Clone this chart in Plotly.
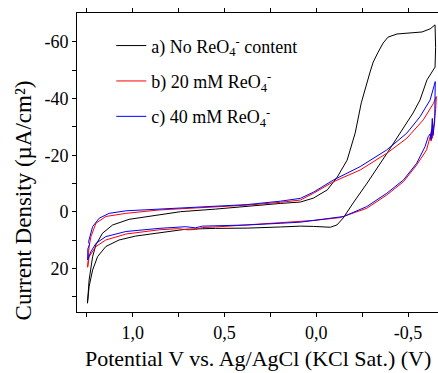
import plotly.graph_objects as go

# ---------------- data ----------------
names = ["a) No ReO<sub>4</sub><sup>-</sup> content",
         "b) 20 mM ReO<sub>4</sub><sup>-</sup>",
         "c) 40 mM ReO<sub>4</sub><sup>-</sup>"]
colors = ["#000000", "#ff0000", "#0000ff"]

pot_a = [1.247, 1.238, 1.219, 1.192, 1.147, 1.075, 0.984, 0.857, 0.712, 0.55, 0.377, 0.196,
         0.087, 0.015, -0.058, -0.076, -0.112, -0.147, -0.201, -0.277, -0.386, -0.457,
         -0.527, -0.565, -0.603, -0.647, -0.650, -0.647, -0.620, -0.576, -0.511, -0.44,
         -0.391, -0.364, -0.337, -0.31, -0.293, -0.266, -0.245, -0.212, -0.168, -0.114,
         -0.06, 0.015, 0.087, 0.196, 0.377, 0.55, 0.739, 0.857, 1.02, 1.11, 1.165, 1.201,
         1.219, 1.238, 1.247]
cur_a = [32.2, 26.3, 20.5, 15.8, 12.2, 9.9, 8.5, 7.3, 6.1, 5.8, 5.7, 5.3,
         5.0, 5.1, 5.5, 5.4, 4.6, 2.1, -3.2, -10.2, -20.8, -27.9,
         -34.9, -39.5, -46.6, -51.1, -58.0, -66.0, -64.6, -63.5, -63.1, -62.8,
         -61.7, -59.6, -56.4, -52.9, -49.4, -43.0, -38.5, -27.9, -18.3, -12.3,
         -7.8, -4.9, -3.5, -3.0, -1.9, -1.0, -0.1, 1.1, 2.6, 4.6, 7.5, 11.6,
         15.8, 24.0, 32.2]

pot_b = [1.246, 1.238, 1.201, 1.147, 1.038, 0.857, 0.755, 0.70, 0.66, 0.62, 0.55, 0.377,
         0.196, 0.087, 0.015, -0.13, -0.275, -0.384, -0.475, -0.547, -0.601, -0.62,
         -0.628, -0.625, -0.636, -0.632, -0.645, -0.650, -0.654, -0.638, -0.583,
         -0.493, -0.384, -0.239, -0.094, 0.015, 0.087, 0.196, 0.377, 0.55, 0.712,
         0.857, 1.038, 1.147, 1.201, 1.228, 1.238, 1.246]
cur_b = [19.5, 15.8, 12.2, 9.9, 7.8, 6.3, 5.9, 6.3, 6.2, 5.5, 5.3, 4.6,
         4.0, 3.4, 3.0, 2.0, -1.3, -6.0, -10.7, -16.6, -21.9, -26.6,
         -29.0, -25.0, -30.5, -26.0, -32.0, -36.0, -40.7, -38.3, -32.5,
         -26.0, -20.7, -14.8, -10.7, -6.6, -4.2, -3.4, -2.4, -1.8, -1.3,
         -0.7, 0.5, 1.6, 4.0, 8.7, 12.2, 19.5]

pot_c = [1.246, 1.228, 1.201, 1.147, 1.038, 0.857, 0.712, 0.66, 0.62, 0.55, 0.377, 0.196,
         0.087, -0.149, -0.275, -0.384, -0.475, -0.547, -0.592, -0.61, -0.62, -0.625,
         -0.632, -0.636, -0.645, -0.648, -0.62, -0.565, -0.493, -0.384, -0.239,
         -0.094, 0.015, 0.087, 0.196, 0.377, 0.55, 0.712, 0.857, 1.038, 1.129, 1.183,
         1.219, 1.241, 1.236, 1.245, 1.246]
cur_c = [16.9, 14.0, 11.1, 8.7, 6.9, 5.8, 5.2, 5.6, 5.0, 4.9, 4.6, 4.0,
         3.6, 1.6, -1.9, -6.6, -11.3, -17.2, -23.0, -26.6, -27.5, -25.5,
         -33.0, -27.0, -32.0, -46.0, -39.5, -33.6, -27.8, -21.9, -16.0,
         -11.3, -7.0, -4.8, -3.8, -2.6, -2.0, -1.6, -1.1, -0.4, 0.5, 2.2,
         5.2, 10.5, 11.5, 13.0, 16.9]

x_tickvals = [1.0, 0.5, 0.0, -0.5]
x_ticktext = ["1,0", "0,5", "0,0", "-0,5"]
x_minor = [1.25, 0.75, 0.25, -0.25]
y_tickvals = [-60, -40, -20, 0, 20]
y_ticktext = ["-60", "-40", "-20", "0", "20"]
y_minor = [-50, -30, -10, 10, 30]

x_title = "Potential V vs. Ag/AgCl (KCl Sat.) (V)"
y_title = "Current Density (µA/cm²)"

FONT = "Liberation Serif, Times New Roman, serif"

# ---------------- figure ----------------
fig = go.Figure()
for i, (px, cy) in enumerate([(pot_a, cur_a), (pot_b, cur_b), (pot_c, cur_c)]):
    fig.add_trace(go.Scatter(x=px, y=cy, mode="lines", name=names[i],
                             legendgroup=str(i),
                             line=dict(color=colors[i], width=1)))

fig.update_layout(
    width=438, height=373,
    margin=dict(l=77, r=0, t=13, b=61),
    paper_bgcolor="white", plot_bgcolor="white",
    font=dict(family=FONT, color="black", size=17),
    showlegend=True,
    legend=dict(x=0.095, y=0.952, xanchor="left", yanchor="top",
                bgcolor="rgba(0,0,0,0)", font=dict(family=FONT, size=18),
                tracegroupgap=9, traceorder="grouped"),
    xaxis=dict(range=[1.304, -0.663], showgrid=False, zeroline=False,
               showline=True, linecolor="black", linewidth=1, mirror="ticks",
               ticks="outside", ticklen=4, tickcolor="black",
               tickmode="array", tickvals=x_tickvals, ticktext=x_ticktext,
               minor=dict(tickmode="array", tickvals=x_minor, ticks="outside",
                          ticklen=4, tickcolor="black"),
               tickfont=dict(family=FONT, size=18)),
    yaxis=dict(range=[35.3, -70.2], showgrid=False, zeroline=False,
               showline=True, linecolor="black", linewidth=1,
               ticks="outside", ticklen=4, tickcolor="black",
               tickmode="array", tickvals=y_tickvals, ticktext=y_ticktext,
               minor=dict(tickmode="array", tickvals=y_minor, ticks="outside",
                          ticklen=4, tickcolor="black"),
               tickfont=dict(family=FONT, size=18)),
    annotations=[
        dict(text=x_title, xref="paper", yref="paper", x=0.50, y=-0.157,
             xanchor="center", yanchor="middle", showarrow=False,
             font=dict(family=FONT, size=22)),
        dict(text=y_title, xref="paper", yref="paper", x=-0.147, y=0.373,
             xanchor="center", yanchor="middle", showarrow=False, textangle=-90,
             font=dict(family=FONT, size=23)),
    ],
)

fig.write_html("out.html", config={"displayModeBar": False},
               post_script="document.body.style.margin='0px';document.body.style.padding='0px';")
